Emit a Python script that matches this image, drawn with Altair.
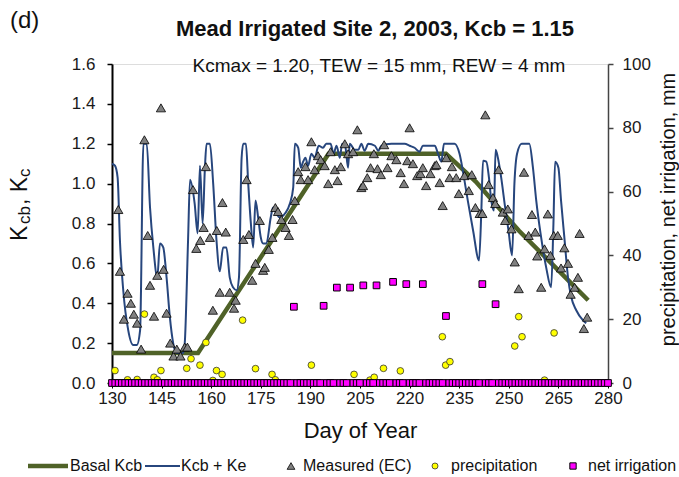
import altair as alt
import pandas as pd

FONT = "Liberation Sans"

# ---------------- data ----------------
kcb_day = [130, 156, 195.5, 231, 240, 253, 268, 274]
kcb_val = [0.15, 0.15, 1.15, 1.15, 1.01, 0.765, 0.515, 0.415]

ke_day = [130, 130.9, 131.7, 132.4, 133.4, 134.9, 136.4, 137.5, 138.5, 139.5,
          140.5, 141.5, 142.5, 143.7, 144.5, 145.5, 146.5, 147.5, 148.5, 149.5,
          151.5, 152, 153, 153.6, 155, 155.9, 156.6, 157.4, 158.1, 158.6,
          159.6, 160.6, 161.6, 162.6, 163.6, 164.6, 165.6, 166.6, 167.7, 168.4,
          169.2, 169.7, 170.5, 171.2, 172, 172.7, 173.4, 174.2, 175, 175.7,
          176.7, 178, 178.7, 179.7, 180.8, 182.3, 183.8, 184.8, 185.3, 186.3,
          187.1, 187.8, 188.5, 189.3, 190.3, 191.3, 192.5, 193.8, 194.8, 196.1,
          197, 197.9, 198.9, 199.6, 200.5, 201.4, 201.9, 203.4, 204.5, 205.4,
          206.4, 207.5, 209.5, 210.5, 211.5, 214.5, 218.5, 220, 221.5, 223,
          224, 227.6, 228.6, 229.6, 230.4, 233.6, 235.1, 236.6, 237.6, 239.2,
          241, 241.7, 242.2, 243.2, 244, 244.7, 245.5, 246, 246.7, 247.7,
          248.9, 249.9, 251, 251.7, 252.5, 253.9, 256.2, 257.3, 258.3, 259.6,
          261.3, 262.8, 263.5, 264, 265, 265.8, 266.8, 267.9, 268.9, 270.4,
          272.4, 273.4]
ke_val = [1.10, 1.09, 1.03, 0.715, 0.465, 0.265, 0.19, 0.19, 0.265, 1.20,
          1.20, 0.88, 0.68, 0.53, 0.70, 0.68, 0.53, 0.33, 0.20, 0.15,
          0.15, 0.20, 0.715, 1.02, 0.90, 0.75, 1.09, 0.80, 1.08, 1.20,
          1.20, 1.00, 0.715, 0.56, 0.68, 0.68, 0.53, 0.48, 0.465, 0.53,
          1.13, 1.20, 1.20, 1.00, 0.80, 0.68, 0.915, 0.83, 0.73, 0.70,
          0.70, 0.83, 0.88, 0.85, 0.83, 0.85, 0.90, 0.98, 1.20, 1.18,
          1.08, 1.11, 1.13, 1.09, 1.15, 1.13, 1.19, 1.18, 1.20, 1.20,
          1.15, 1.19, 1.13, 1.20, 1.19, 1.08, 1.20, 1.17, 1.17, 1.20,
          1.165, 1.20, 1.19, 1.165, 1.19, 1.20, 1.20, 1.19, 1.18, 1.16,
          1.19, 1.19, 1.15, 1.11, 1.20, 1.20, 1.15, 1.015, 0.915, 0.765,
          0.615, 0.865, 1.115, 1.11, 1.03, 0.915, 0.865, 1.17, 1.13, 1.03,
          0.88, 0.765, 0.64, 1.00, 1.15, 1.20, 1.20, 1.08, 0.915, 0.75,
          0.58, 0.48, 0.80, 1.11, 1.08, 0.915, 0.73, 0.53, 0.43, 0.365,
          0.315, 0.30]

meas_day = [131.9, 132.4, 133.6, 134.7, 135.7, 136.6, 137.6, 138.8, 139.8, 140.8,
            141.5, 142.7, 143.7, 144.8, 145.6, 146.5, 147.6, 148.6, 149.6, 150.7,
            152.0, 152.8, 154.5, 155.5, 156.7, 157.7, 158.4, 159.6, 160.5, 161.7,
            162.6, 163.4, 164.4, 165.6, 166.9, 167.4, 169.7, 170.7, 171.4, 172.4,
            173.4, 174.7, 175.7, 176.2, 177.4, 178.5, 179.4, 180.2, 181.2, 182.5,
            183.5, 184.6, 185.3, 186.3, 187.1, 188.5, 189.3, 190.3, 191.3, 192.3,
            193.1, 194.3, 195.4, 196.1, 197.4, 198.2, 199.2, 200.4, 201.4, 202.9,
            204.2, 205.4, 205.9, 207.2, 208.2, 209.2, 210.3, 211.3, 212.3, 213.3,
            214.5, 216.0, 217.3, 218.3, 219.3, 220.0, 221.0, 222.3, 223.3, 224.0,
            225.0, 226.3, 227.6, 228.1, 229.1, 230.0, 231.1, 232.1, 232.8, 234.1,
            234.9, 236.6, 237.9, 238.8, 239.9, 241.2, 242.0, 242.9, 243.9, 245.2,
            245.9, 246.9, 248.2, 248.9, 249.7, 250.8, 251.8, 253.0, 254.6, 256.0,
            257.0, 258.0, 258.6, 259.8, 260.8, 261.8, 262.6, 263.6, 264.8, 265.8,
            266.8, 267.9, 268.7, 269.9, 270.9, 271.4, 272.7, 273.7]
meas_val = [0.87, 0.56, 0.32, 0.45, 0.40, 0.345, 0.30, 0.17, 1.22, 0.74,
            0.49, 0.335, 0.54, 1.38, 0.57, 0.35, 0.20, 0.135, 0.17, 0.135,
            0.18, 0.18, 0.97, 0.675, 0.715, 0.78, 1.085, 0.73, 0.365, 0.765,
            0.455, 0.905, 0.757, 0.455, 0.375, 0.415, 0.72, 1.02, 0.745, 0.515,
            0.60, 0.815, 0.565, 0.58, 0.67, 0.73, 0.88, 0.86, 0.82, 0.78,
            0.74, 0.82, 0.915, 1.06, 1.02, 1.085, 1.02, 1.21, 1.07, 1.14,
            1.12, 1.09, 1.00, 1.16, 1.07, 1.015, 1.085, 1.20, 1.15, 1.16,
            1.27, 0.98, 0.99, 1.03, 1.08, 1.15, 1.075, 1.045, 1.195, 1.08,
            1.14, 1.12, 1.055, 1.00, 1.115, 1.28, 1.10, 1.04, 1.05, 1.08,
            0.99, 1.05, 1.09, 1.095, 1.005, 0.89, 1.13, 1.03, 1.085, 1.03,
            0.95, 1.04, 0.965, 1.045, 0.88, 0.85, 0.85, 1.345, 0.995, 0.93,
            0.90, 1.07, 0.857, 0.815, 0.873, 0.773, 0.607, 0.473, 1.057, 0.74,
            0.845, 0.757, 0.637, 0.48, 0.673, 0.848, 0.64, 0.74, 0.74, 0.577,
            0.678, 0.60, 0.445, 0.48, 0.53, 0.75, 0.273, 0.33]

precip_day = [130.9, 134.7, 137.6, 139.8, 142.7, 143.7, 144.8, 152.6, 153.9, 156.6,
              158.4, 160.5, 161.6, 163.3, 169.5, 173.4, 178.4, 179.4, 190.3, 203.2,
              208.0, 209.3, 212.1, 217.2, 229.9, 230.9, 232.2, 251.8, 253.0, 254.0,
              260.8, 263.7]
precip_mm = [3.9, 1.0, 1.1, 21.6, 1.8, 1.0, 3.9, 4.6, 7.6, 5.6,
             12.7, 0.8, 3.9, 2.7, 19.7, 4.5, 2.7, 1.0, 5.6, 2.7,
             0.9, 1.8, 4.6, 3.8, 14.5, 5.6, 6.7, 11.6, 20.8, 14.5,
             0.9, 15.7]

irr_event_day = [185, 194, 198, 202, 206, 210, 215, 219, 224, 231, 242, 246]
irr_event_mm = [23.9, 24.2, 29.9, 29.9, 30.6, 30.6, 31.7, 31.0, 31.0, 21.0, 31.0, 24.7]
irr_first_day, irr_last_day = 130, 280   # net irrigation reported every day (0 when none)

x_ticks = [130, 145, 160, 175, 190, 205, 220, 235, 250, 265, 280]
y_ticks = [0.0, 0.2, 0.4, 0.6, 0.8, 1.0, 1.2, 1.4, 1.6]
y2_ticks = [0, 20, 40, 60, 80, 100]

# ---------------- frames ----------------
df_kcb = pd.DataFrame({"day": kcb_day, "kc": kcb_val})
df_ke = pd.DataFrame({"day": ke_day, "kc": ke_val})
df_meas = pd.DataFrame({"day": meas_day, "kc": meas_val})
df_pr = pd.DataFrame({"day": precip_day, "mm": precip_mm})
ev = dict(zip(irr_event_day, irr_event_mm))
irr_days = list(range(irr_first_day, irr_last_day + 1))
df_irr = pd.DataFrame({"day": irr_days, "mm": [ev.get(d, 0.0) for d in irr_days]})

W, H = 496, 319

x_axis = alt.Axis(values=x_ticks, title="Day of Year", titleFontSize=22,
                  titleFontWeight="normal", titleFont=FONT, titleColor="#111",
                  titlePadding=14, labelFontSize=17, labelFont=FONT,
                  labelColor="#1a1a1a", labelPadding=2, tickSize=5,
                  tickColor="black", domainColor="black", domainWidth=2,
                  grid=False, labelFlush=False)
x_enc = alt.X("day:Q", scale=alt.Scale(domain=[130, 280], nice=False), axis=x_axis)

y_axis = alt.Axis(values=y_ticks, format=".1f", title=None, grid=False,
                  domainColor="black", domainWidth=2, tickColor="black",
                  tickWidth=1.5, tickSize=5, labelFontSize=17, labelFont=FONT,
                  labelPadding=12, labelColor="#1a1a1a")
y_enc = alt.Y("kc:Q", scale=alt.Scale(domain=[0, 1.6], nice=False), axis=y_axis)

y2_axis = alt.Axis(values=y2_ticks, orient="right", grid=False,
                   domainColor="#444", domainWidth=1.5, tickColor="#444",
                   tickWidth=1.5, tickSize=5, labelFontSize=17, labelFont=FONT,
                   labelPadding=9, labelColor="#1a1a1a",
                   title="precipitation, net irrigation, mm", titleFont=FONT,
                   titleFontSize=20, titleFontWeight="normal", titleColor="#111",
                   titleAngle=270, titleAlign="center", titleBaseline="alphabetic",
                   titleX=66, titleY=145)
y2_enc = alt.Y("mm:Q", scale=alt.Scale(domain=[0, 100], nice=False), axis=y2_axis)

basal = alt.Chart(df_kcb).mark_line(color="#4F6228", strokeWidth=4.5).encode(x=x_enc, y=y_enc)
kcbke = alt.Chart(df_ke).mark_line(color="#27467D", strokeWidth=2,
                                    interpolate="monotone").encode(x=x_enc, y=y_enc)
meas = alt.Chart(df_meas).mark_point(shape="triangle-up", filled=True, fill="#808080",
                                     stroke="black", strokeWidth=0.8, size=85,
                                     opacity=1).encode(x=x_enc, y=y_enc)

one = pd.DataFrame({"k": [0]})


def label(text, x, y, size=16, align="left", angle=0, weight="normal", baseline="middle"):
    kw = dict(text=text, font=FONT, fontSize=size, align=align, baseline=baseline,
              color="#111", fontWeight=weight)
    if angle:
        kw["angle"] = angle
    return alt.Chart(one).mark_text(**kw).encode(x=alt.value(x), y=alt.value(y))


title = label("Mead Irrigated Site 2, 2003, Kcb = 1.15", 263, -28, size=22,
              align="center", weight="bold", baseline="alphabetic")
subtitle = label("Kcmax = 1.20, TEW = 15 mm, REW = 4 mm", 267, 8, size=19,
                 align="center", baseline="alphabetic")
panel = label("(d)", -102, -36, size=24, baseline="alphabetic")
yt1 = label("K", -85, 177, size=23, angle=270, baseline="alphabetic")
yt2 = label("cb", -82, 160, size=17, angle=270, baseline="alphabetic")
yt3 = label(", K", -85, 141, size=23, angle=270, baseline="alphabetic")
yt4 = label("c", -82, 113, size=17, angle=270, baseline="alphabetic")

LY = 402
leg_g = alt.Chart(one).mark_rule(color="#4F6228", strokeWidth=4.5).encode(
    x=alt.value(-84), x2=alt.value(-44), y=alt.value(LY))
leg_b = alt.Chart(one).mark_rule(color="#27467D", strokeWidth=2).encode(
    x=alt.value(33), x2=alt.value(68), y=alt.value(LY))
leg_t = alt.Chart(one).mark_point(shape="triangle-up", filled=True, fill="#808080",
                                  stroke="black", strokeWidth=0.8, size=60,
                                  opacity=1).encode(x=alt.value(179), y=alt.value(LY))
leg_c = alt.Chart(one).mark_point(shape="circle", filled=True, fill="#FFFF00",
                                  stroke="#333", strokeWidth=0.8, size=36,
                                  opacity=1).encode(x=alt.value(323), y=alt.value(LY))
leg_s = alt.Chart(one).mark_point(shape="square", filled=True, fill="#FF00FF",
                                  stroke="black", strokeWidth=1, size=40,
                                  opacity=1).encode(x=alt.value(461), y=alt.value(LY))
leg_texts = [label("Basal Kcb", -42, LY), label("Kcb + Ke", 69, LY),
             label("Measured (EC)", 191, LY), label("precipitation", 339, LY),
             label("net irrigation", 476, LY)]

left = alt.layer(basal, kcbke, meas, title, subtitle, panel, yt1, yt2, yt3, yt4,
                 leg_g, leg_b, leg_t, leg_c, leg_s, *leg_texts)

precip = alt.Chart(df_pr).mark_point(shape="circle", filled=True, fill="#FFFF00",
                                     stroke="#333", strokeWidth=0.8, size=45,
                                     opacity=1).encode(x=x_enc, y=y2_enc)
irr = alt.Chart(df_irr).mark_point(shape="square", filled=True, fill="#FF00FF",
                                   stroke="black", strokeWidth=1, size=45,
                                   opacity=1).encode(x=x_enc, y=y2_enc)
right = alt.layer(precip, irr)

chart = alt.layer(left, right).resolve_scale(y="independent").properties(
    width=W, height=H,
    padding={"left": 112, "top": 64, "right": 71, "bottom": 94},
    autosize=alt.AutoSizeParams(type="none"),
).configure_view(stroke="transparent").configure(background="white")

chart.save("out.html", embed_options={"renderer": "svg", "actions": False})
